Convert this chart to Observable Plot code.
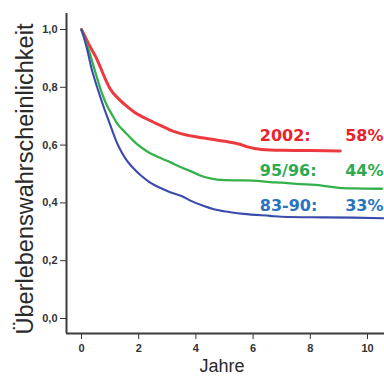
<!DOCTYPE html>
<html><head><meta charset="utf-8">
<script src="https://cdn.jsdelivr.net/npm/d3@7"></script>
<script src="https://cdn.jsdelivr.net/npm/@observablehq/plot@0.6"></script>
<style>body{margin:0;background:#fff}</style>
</head><body><div id="chart"></div>
<script>
// Kaplan-Meier curves
const seriesNames = ["2002", "95/96", "83-90"];
const endPercents = ["58%", "44%", "33%"];

const years2002 = [0, 0.1, 0.25, 0.5, 0.7, 0.85, 1.0, 1.3, 1.6, 1.85, 2.25, 2.5, 2.85, 3.1, 3.5, 4.0, 4.5, 5.0, 5.5, 5.8, 6.3, 7.0, 8.0, 9.05];
const surv2002  = [1.0, 0.98, 0.95, 0.905, 0.86, 0.825, 0.795, 0.76, 0.733, 0.714, 0.692, 0.68, 0.664, 0.652, 0.639, 0.629, 0.621, 0.613, 0.604, 0.594, 0.585, 0.582, 0.581, 0.58];

const years9596 = [0, 0.1, 0.26, 0.5, 0.72, 0.9, 1.07, 1.25, 1.54, 1.89, 2.12, 2.4, 2.82, 3.1, 3.46, 3.81, 4.2, 4.5, 5.0, 5.5, 6.0, 6.6, 7.0, 7.5, 8.4, 9.0, 9.5, 10.5];
const surv9596  = [1.0, 0.97, 0.927, 0.847, 0.778, 0.735, 0.705, 0.674, 0.643, 0.608, 0.59, 0.572, 0.553, 0.541, 0.524, 0.51, 0.493, 0.485, 0.479, 0.478, 0.477, 0.472, 0.47, 0.466, 0.46, 0.452, 0.45, 0.449];

const years8390 = [0, 0.08, 0.2, 0.37, 0.5, 0.66, 0.8, 0.95, 1.19, 1.3, 1.54, 1.89, 2.1, 2.35, 2.82, 3.1, 3.52, 3.81, 4.28, 4.63, 4.98, 5.67, 6.6, 7.0, 8.4, 9.5, 10.55];
const surv8390  = [1.0, 0.975, 0.93, 0.858, 0.815, 0.766, 0.725, 0.685, 0.62, 0.595, 0.553, 0.512, 0.493, 0.474, 0.449, 0.437, 0.423, 0.408, 0.389, 0.378, 0.371, 0.362, 0.355, 0.352, 0.35, 0.349, 0.347];

const xTicks = [0, 2, 4, 6, 8, 10];
const yTicks = [0, 0.2, 0.4, 0.6, 0.8, 1.0];

const lineColors = ["#ec3a3f", "#34b14b", "#3a4bab"];
const textColors = ["#e8222b", "#2fa94f", "#2a72bf"];
const lineWidths = [3, 2.3, 2.1];
const labelDy = [-9.7, -12.5, -7];

const curves = [
  {name: seriesNames[0], years: years2002, surv: surv2002},
  {name: seriesNames[1], years: years9596, surv: surv9596},
  {name: seriesNames[2], years: years8390, surv: surv8390}
];

const xDomain = [-0.524, 10.594];
const yDomain = [-0.0519, 1.0554];
const fmt = d => d.toFixed(1).replace(".", ",");

const marks = [];
curves.forEach((c, i) => {
  const data = c.years.map((t, k) => ({t, s: c.surv[k]}));
  marks.push(Plot.line(data, {x: "t", y: "s", stroke: lineColors[i], strokeWidth: lineWidths[i], curve: "monotone-x", strokeLinejoin: "round"}));
});
marks.push(Plot.ruleX([xDomain[0]], {y1: yDomain[0], y2: yDomain[1], stroke: "#3c3c3c", strokeWidth: 2}));
marks.push(Plot.ruleY([yDomain[0]], {x1: xDomain[0], x2: xDomain[1], stroke: "#3c3c3c", strokeWidth: 2}));
curves.forEach((c, i) => {
  const last = [{s: c.surv[c.surv.length - 1]}];
  marks.push(Plot.text(last, {y: "s", frameAnchor: "right", dx: -124.7, dy: labelDy[i], text: () => c.name + ":",
    textAnchor: "start", lineAnchor: "bottom", fill: textColors[i], fontFamily: "DejaVu Sans", fontWeight: "bold", fontSize: 16}));
  marks.push(Plot.text(last, {y: "s", frameAnchor: "right", dx: -1, dy: labelDy[i], text: () => endPercents[i],
    textAnchor: "end", lineAnchor: "bottom", fill: textColors[i], fontFamily: "DejaVu Sans", fontWeight: "bold", fontSize: 16}));
});
marks.push(Plot.text(["Überlebenswahrscheinlichkeit"], {frameAnchor: "left", text: d => d, rotate: -90, dx: -34, dy: 5.5,
  lineAnchor: "bottom", textAnchor: "middle", fill: "#2a2a2a", fontFamily: "Liberation Sans", fontWeight: "normal", fontSize: 23.5}));
marks.push(Plot.text(["Jahre"], {frameAnchor: "bottom", text: d => d, dx: -3.5, dy: 38.5,
  lineAnchor: "bottom", textAnchor: "middle", fill: "#2a2a2a", fontFamily: "Liberation Sans", fontWeight: "normal", fontSize: 18}));

const chart = Plot.plot({
  width: 384,
  height: 376,
  marginLeft: 66,
  marginRight: 0,
  marginTop: 13,
  marginBottom: 43,
  style: {fontFamily: "Liberation Sans", fontSize: "11px", fontWeight: "bold", color: "#333", background: "#fff", overflow: "visible"},
  x: {domain: xDomain, ticks: xTicks, tickSize: 6, tickPadding: 5, tickFormat: d => String(d), label: null},
  y: {domain: yDomain, ticks: yTicks, tickSize: 6, tickPadding: 3, tickFormat: fmt, label: null},
  marks
});
document.getElementById("chart").appendChild(chart);
</script>
</body></html>
